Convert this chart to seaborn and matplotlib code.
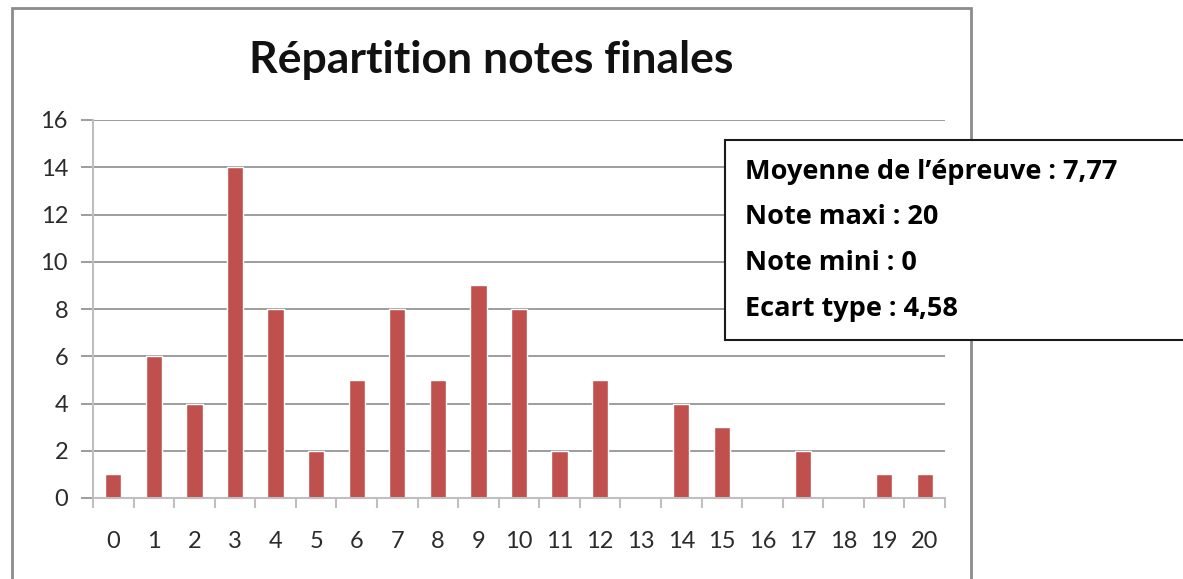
import matplotlib
matplotlib.use("Agg")
import matplotlib.pyplot as plt
from matplotlib.patches import Rectangle
import seaborn as sns
import pandas as pd
import numpy as np

# Data
notes = [str(n) for n in range(21)]
effectifs = [1, 6, 4, 14, 8, 2, 5, 8, 5, 9, 8, 2, 5, 0, 4, 3, 0, 2, 0, 1, 1]
stats_lines = ["Moyenne de l\u2019épreuve : 7,77", "Note maxi : 20",
               "Note mini : 0", "Ecart type : 4,58"]
title = "Répartition notes finales"

df = pd.DataFrame({"Note": notes, "Effectif": effectifs})

sns.set_theme(style="white")
plt.rcParams["font.family"] = ["Lato", "DejaVu Sans"]

W, H = 1183, 579
fig = plt.figure(figsize=(W / 100, H / 100), dpi=100)
ax = fig.add_axes([93 / W, 1 - 498 / H, (945 - 93) / W, (498 - 120) / H])

sns.barplot(data=df, x="Note", y="Effectif", color="#C0504D", saturation=1,
            width=0.4, order=notes, ax=ax)

ax.set_ylim(0, 16)
ax.set_xlim(-0.5, 20.5)
ax.set_yticks(range(0, 17, 2))
ax.yaxis.grid(True, color="#8C8C8C", linewidth=1.2)
ax.set_axisbelow(True)
ax.set_xlabel("")
ax.set_ylabel("")

for s in ["top", "right"]:
    ax.spines[s].set_visible(False)
ax.spines["left"].set_color("#BFBFBF")
ax.spines["bottom"].set_color("#BFBFBF")
ax.spines["left"].set_linewidth(1.5)
ax.spines["bottom"].set_linewidth(1.5)

# category separators as tick marks
ax.set_xticks(np.arange(-0.5, 21, 1), minor=True)
ax.tick_params(axis="x", which="minor", length=7, color="#BFBFBF", width=1.5, direction="out", bottom=True)
ax.tick_params(axis="x", which="major", length=0, pad=24, labelsize=17, labelcolor="#2b2b2b")
ax.tick_params(axis="y", which="major", length=9, color="#8C8C8C", width=1.2, direction="out", left=True,
               pad=9, labelsize=17, labelcolor="#2b2b2b")

# title
fig.text(491 / W, 1 - 60 / H, title, ha="center", va="center", fontsize=32,
         fontweight="bold", color="#111111")

# chart outer border
fig.patches.append(Rectangle((12 / W, -0.05), (971 - 12) / W, 1.05 - 8 / H,
                             transform=fig.transFigure, fill=False,
                             edgecolor="#8C8C8C", linewidth=2))

# stats text box
fig.patches.append(Rectangle((725 / W, 1 - 340 / H), (W + 20 - 725) / W, 200 / H,
                             transform=fig.transFigure, facecolor="white",
                             edgecolor="#1a1a1a", linewidth=1.5, zorder=5))
for i, line in enumerate(stats_lines):
    fig.text(745 / W, 1 - (172 + i * 45.5) / H, line, ha="left", va="center",
             fontsize=19.5, fontweight="bold", color="black", zorder=6,
             family=["Open Sans", "DejaVu Sans"])

fig.savefig("out.png", dpi=100)
